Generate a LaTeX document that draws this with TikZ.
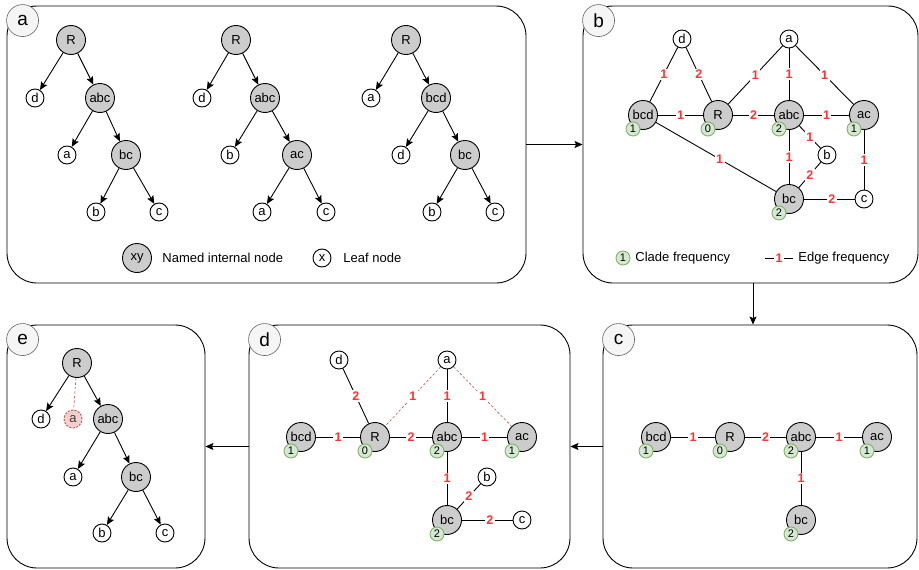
\documentclass[tikz,border=0pt]{standalone}
\usepackage{fontspec}
\setmainfont{Liberation Sans}
\usetikzlibrary{arrows.meta}

\definecolor{nodogris}{HTML}{CCCCCC}
\definecolor{verdefill}{HTML}{D5E8D4}
\definecolor{verdeline}{HTML}{82B366}
\definecolor{rojo}{HTML}{FF3333}
\definecolor{rojofill}{HTML}{F8CECC}
\definecolor{rojoline}{HTML}{B85450}
\definecolor{tagfill}{HTML}{F5F5F5}
\definecolor{tagline}{HTML}{666666}

% frecuencia de clado junto al nodo #1
\newcommand\clado[2]{\node[badge] (#1f) at ([shift={(-10,14)}]#1.center) {#2};}

\begin{document}
\begin{tikzpicture}[x=1pt,y=-1pt,line width=0.9pt,>={Stealth[length=8pt,width=7pt,inset=1.5pt]},
  font=\fontsize{13}{15}\selectfont,
  panel/.style={draw,rounded corners=30pt,inner sep=0pt},
  tag/.style={circle,draw=tagline,fill=tagfill,line width=0.6pt,minimum size=32pt,inner sep=0pt,font=\fontsize{19}{19}\selectfont},
  inner/.style={circle,draw,fill=nodogris,minimum size=29pt,inner sep=0pt},
  leaf/.style={circle,draw,fill=white,minimum size=18pt,inner sep=0pt},
  badge/.style={circle,draw=verdeline,fill=verdefill,minimum size=14pt,inner sep=0pt,font=\fontsize{11}{11}\selectfont},
  freq/.style={fill=white,text=rojo,inner sep=1.5pt,font=\fontsize{12.5}{14}\selectfont\bfseries},
  texto/.style={anchor=west,inner sep=0pt},
  dudosa/.style={draw=rojoline,line width=0.6pt,dash pattern=on 2.5pt off 2pt}]
  \useasboundingbox (0,0) rectangle (919,570);

  % paneles
  \node[panel,minimum width=519pt,minimum height=277pt] (pa) at (266.5,144.5) {};
  \node[panel,minimum width=335pt,minimum height=277pt] (pb) at (750.5,144.5) {};
  \node[panel,minimum width=314pt,minimum height=243pt] (pc) at (760,446.5) {};
  \node[panel,minimum width=321pt,minimum height=243pt] (pd) at (409.5,446.5) {};
  \node[panel,minimum width=198pt,minimum height=243pt] (pe) at (106,446.5) {};
  \draw[->] (pa.east) -- (pb.west);
  \draw[->] ([xshift=2.5pt]pb.south) -- ([xshift=2.5pt]pb.south |- pc.north);
  \draw[->] (pc.west) -- (pd.east);
  \draw[->] (pd.west) -- (pe.east);
  \node[tag] (pa_tag) at ([shift={(16,15)}]pa.north west) {a};
  \node[tag] (pb_tag) at ([shift={(16,15)}]pb.north west) {b};
  \node[tag] (pc_tag) at ([shift={(16,15)}]pc.north west) {c};
  \node[tag] (pd_tag) at ([shift={(16,15)}]pd.north west) {d};
  \node[tag] (pe_tag) at ([shift={(16,15)}]pe.north west) {e};

  % a: arboles de entrada
  \node[inner] (t1_R) at (71,40) {R};
  \node[leaf] (t1_d) at (35,98) {d};
  \node[inner] (t1_abc) at (100,98) {abc};
  \node[leaf] (t1_a) at (67,155) {a};
  \node[inner] (t1_bc) at (126,155) {bc};
  \node[leaf] (t1_b) at (96,212) {b};
  \node[leaf] (t1_c) at (159,212) {c};
  \draw[->] (t1_R) -- (t1_d);
  \draw[->] (t1_R) -- (t1_abc);
  \draw[->] (t1_abc) -- (t1_a);
  \draw[->] (t1_abc) -- (t1_bc);
  \draw[->] (t1_bc) -- (t1_b);
  \draw[->] (t1_bc) -- (t1_c);

  \node[inner] (t2_R) at (236,40) {R};
  \node[leaf] (t2_d) at (202,98) {d};
  \node[inner] (t2_abc) at (265,98) {abc};
  \node[leaf] (t2_b) at (230,155) {b};
  \node[inner] (t2_ac) at (297,155) {ac};
  \node[leaf] (t2_a) at (262,212) {a};
  \node[leaf] (t2_c) at (326,212) {c};
  \draw[->] (t2_R) -- (t2_d);
  \draw[->] (t2_R) -- (t2_abc);
  \draw[->] (t2_abc) -- (t2_b);
  \draw[->] (t2_abc) -- (t2_ac);
  \draw[->] (t2_ac) -- (t2_a);
  \draw[->] (t2_ac) -- (t2_c);

  \node[inner] (t3_R) at (406,40) {R};
  \node[leaf] (t3_a) at (371,98) {a};
  \node[inner] (t3_bcd) at (436,98) {bcd};
  \node[leaf] (t3_d) at (401,155) {d};
  \node[inner] (t3_bc) at (465,155) {bc};
  \node[leaf] (t3_b) at (432,212) {b};
  \node[leaf] (t3_c) at (495,212) {c};
  \draw[->] (t3_R) -- (t3_a);
  \draw[->] (t3_R) -- (t3_bcd);
  \draw[->] (t3_bcd) -- (t3_d);
  \draw[->] (t3_bcd) -- (t3_bc);
  \draw[->] (t3_bc) -- (t3_b);
  \draw[->] (t3_bc) -- (t3_c);

  \node[inner] (ley_xy) at (137,258) {xy};
  \node[texto] (ley_int) at (162,258) {Named internal node};
  \node[leaf] (ley_x) at (322,258) {x};
  \node[texto] (ley_hoja) at (343,258) {Leaf node};

  % b: grafo de frecuencias
  \node[leaf] (b_d) at (682,39) {d};
  \node[leaf] (b_a) at (789,39) {a};
  \node[inner] (b_bcd) at (643,115) {bcd};
  \node[inner] (b_R) at (718,115) {R};
  \node[inner] (b_abc) at (789,115) {abc};
  \node[inner] (b_ac) at (864,115) {ac};
  \node[leaf] (b_b) at (827,155) {b};
  \node[inner] (b_bc) at (789,199) {bc};
  \node[leaf] (b_c) at (864,199) {c};
  \draw (b_d) -- node[freq]{1} (b_bcd);
  \draw (b_d) -- node[freq]{2} (b_R);
  \draw (b_a) -- node[freq]{1} (b_R);
  \draw (b_a) -- node[freq]{1} (b_abc);
  \draw (b_a) -- node[freq]{1} (b_ac);
  \draw (b_bcd) -- node[freq]{1} (b_R);
  \draw (b_R) -- node[freq]{2} (b_abc);
  \draw (b_abc) -- node[freq]{1} (b_ac);
  \draw (b_abc) -- node[freq]{1} (b_b);
  \draw (b_abc) -- node[freq]{1} (b_bc);
  \draw (b_b) -- node[freq]{2} (b_bc);
  \draw (b_bc) -- node[freq,pos=0.55]{2} (b_c);
  \draw (b_ac) -- node[freq]{1} (b_c);
  \draw (b_bcd) -- node[freq,pos=0.53]{1} (b_bc);
  \clado{b_bcd}{1} \clado{b_R}{0} \clado{b_abc}{2} \clado{b_ac}{1} \clado{b_bc}{2}

  \node[badge] (ley_clado) at (623,258) {1};
  \node[texto] (ley_cf) at (635,258) {Clade frequency};
  \coordinate (ley_e1) at (765,258);
  \coordinate (ley_e2) at (793,258);
  \draw (ley_e1) -- node[freq]{1} (ley_e2);
  \node[texto] (ley_ef) at (798,258) {Edge frequency};

  % c: solo clados
  \node[inner] (c_bcd) at (656,437) {bcd};
  \node[inner] (c_R) at (730,437) {R};
  \node[inner] (c_abc) at (801,437) {abc};
  \node[inner] (c_ac) at (877,437) {ac};
  \node[inner] (c_bc) at (801,520) {bc};
  \draw (c_bcd) -- node[freq]{1} (c_R);
  \draw (c_R) -- node[freq]{2} (c_abc);
  \draw (c_abc) -- node[freq]{1} (c_ac);
  \draw (c_abc) -- node[freq]{1} (c_bc);
  \clado{c_bcd}{1} \clado{c_R}{0} \clado{c_abc}{2} \clado{c_ac}{1} \clado{c_bc}{2}

  % d: hojas agregadas
  \node[leaf] (d_d) at (339,360) {d};
  \node[leaf] (d_a) at (447,360) {a};
  \node[inner] (d_bcd) at (301,437) {bcd};
  \node[inner] (d_R) at (375,437) {R};
  \node[inner] (d_abc) at (447,437) {abc};
  \node[inner] (d_ac) at (522,437) {ac};
  \node[leaf] (d_b) at (487,477) {b};
  \node[inner] (d_bc) at (447,520) {bc};
  \node[leaf] (d_c) at (522,520) {c};
  \draw (d_d) -- node[freq]{2} (d_R);
  \draw[dudosa] (d_a) -- node[freq]{1} (d_R);
  \draw (d_a) -- node[freq]{1} (d_abc);
  \draw[dudosa] (d_a) -- node[freq]{1} (d_ac);
  \draw (d_bcd) -- node[freq]{1} (d_R);
  \draw (d_R) -- node[freq]{2} (d_abc);
  \draw (d_abc) -- node[freq]{1} (d_ac);
  \draw (d_abc) -- node[freq]{1} (d_bc);
  \draw (d_b) -- node[freq]{2} (d_bc);
  \draw (d_bc) -- node[freq,pos=0.55]{2} (d_c);
  \clado{d_bcd}{1} \clado{d_R}{0} \clado{d_abc}{2} \clado{d_ac}{1} \clado{d_bc}{2}

  % e: arbol consenso
  \node[inner] (e_R) at (77,363) {R};
  \node[leaf] (e_d) at (41,419) {d};
  \node[leaf,fill=rojofill,draw=rojoline,dash pattern=on 2pt off 1.5pt,text=black!75] (e_x) at (73,419) {a};
  \node[inner] (e_abc) at (108,419) {abc};
  \node[leaf] (e_a) at (73,477) {a};
  \node[inner] (e_bc) at (136,477) {bc};
  \node[leaf] (e_b) at (102,533) {b};
  \node[leaf] (e_c) at (165,533) {c};
  \draw[->] (e_R) -- (e_d);
  \draw[dudosa] (e_R) -- (e_x);
  \draw[->] (e_R) -- (e_abc);
  \draw[->] (e_abc) -- (e_a);
  \draw[->] (e_abc) -- (e_bc);
  \draw[->] (e_bc) -- (e_b);
  \draw[->] (e_bc) -- (e_c);
\end{tikzpicture}
\end{document}
